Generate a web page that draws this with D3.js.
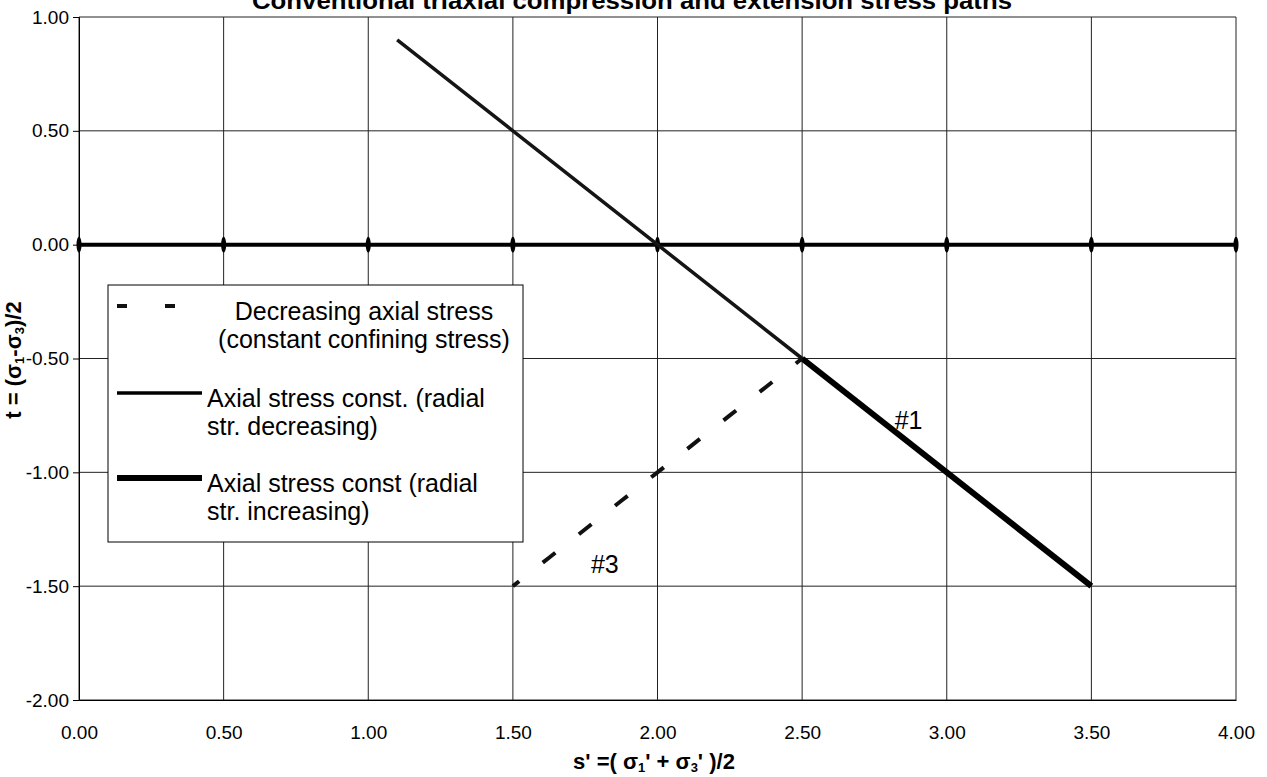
<!DOCTYPE html>
<html>
<head>
<meta charset="utf-8">
<script src="https://cdn.jsdelivr.net/npm/d3@7"></script>
<style>
  body { margin: 0; background: #fff; }
  text { font-family: "Liberation Sans", Arial, sans-serif; fill: #000; }
</style>
</head>
<body>
<svg id="chart"></svg>
<script>
// axis ticks
const sTicks = [0, 0.5, 1, 1.5, 2, 2.5, 3, 3.5, 4];
const tTicks = [-2, -1.5, -1, -0.5, 0, 0.5, 1];

// hydrostatic line t = 0
const zeroS = [0, 0.5, 1, 1.5, 2, 2.5, 3, 3.5, 4];
const zeroT = [0, 0, 0, 0, 0, 0, 0, 0, 0];

// Axial stress const. (radial str. decreasing)
const radDecS = [1.1, 1.5, 2.0, 2.5];
const radDecT = [0.9, 0.5, 0.0, -0.5];

// Axial stress const (radial str. increasing)  #1
const radIncS = [2.5, 3.5];
const radIncT = [-0.5, -1.5];

// Decreasing axial stress (constant confining stress)  #3
const axDecS = [1.5, 1.625, 1.75, 1.875, 2.0, 2.125, 2.25, 2.375, 2.5];
const axDecT = [-1.5, -1.375, -1.25, -1.125, -1.0, -0.875, -0.75, -0.625, -0.5];

const legendItems = [
  { lines: ["Decreasing axial stress", "(constant confining stress)"], type: "dash" },
  { lines: ["Axial stress const. (radial", "str. decreasing)"], type: "thin" },
  { lines: ["Axial stress const (radial", "str. increasing)"], type: "thick" }
];

const W = 1267, H = 777;
const margin = { top: 17, right: 31, bottom: 77, left: 79 };
const width = W - margin.left - margin.right,
      height = H - margin.top - margin.bottom;

const svg = d3.select("#chart").attr("width", W).attr("height", H);
const g = svg.append("g").attr("transform", `translate(${margin.left},${margin.top})`);

const x = d3.scaleLinear().domain([0, 4]).range([0, width]);
const y = d3.scaleLinear().domain([-2, 1]).range([height, 0]);

// plain hyphen for negatives, like the original
const fmt = d => d3.format(".2f")(d).replace("\u2212", "-");

// grid
g.append("g").selectAll("line").data(sTicks).join("line")
  .attr("x1", d => x(d)).attr("x2", d => x(d)).attr("y1", 0).attr("y2", height)
  .attr("stroke", "#222").attr("stroke-width", 1);
g.append("g").selectAll("line").data(tTicks).join("line")
  .attr("x1", 0).attr("x2", width).attr("y1", d => y(d)).attr("y2", d => y(d))
  .attr("stroke", "#222").attr("stroke-width", 1);

// axes
const yAxis = g.append("g")
  .call(d3.axisLeft(y).tickValues(tTicks).tickFormat(fmt).tickSize(6).tickPadding(4));
yAxis.select(".domain").attr("stroke", "#000");
yAxis.selectAll("text").style("font-size", "19px");

const xAxis = g.append("g").attr("transform", `translate(0,${height})`)
  .call(d3.axisBottom(x).tickValues(sTicks).tickFormat(fmt).tickSize(0).tickPadding(26));
xAxis.select(".domain").attr("stroke", "#000");
xAxis.selectAll("text").style("font-size", "19px");

const line = d3.line().x(d => x(d[0])).y(d => y(d[1]));

// zero line with tick markers
const zeroData = zeroS.map((s, i) => [s, zeroT[i]]);
g.append("path").datum(zeroData).attr("d", line)
  .attr("fill", "none").attr("stroke", "#000").attr("stroke-width", 4);
g.append("g").selectAll("ellipse").data(zeroData).join("ellipse")
  .attr("cx", d => x(d[0])).attr("cy", d => y(d[1]))
  .attr("rx", 2.5).attr("ry", 8).attr("fill", "#000");

// radial decreasing
g.append("path").datum(radDecS.map((s, i) => [s, radDecT[i]])).attr("d", line)
  .attr("fill", "none").attr("stroke", "#151515").attr("stroke-width", 3.5);

// radial increasing (#1)
g.append("path").datum(radIncS.map((s, i) => [s, radIncT[i]])).attr("d", line)
  .attr("fill", "none").attr("stroke", "#000").attr("stroke-width", 6);

// decreasing axial stress (#3) - dashes centred on each point
const axPath = g.append("path").datum(axDecS.map((s, i) => [s, axDecT[i]])).attr("d", line)
  .attr("fill", "none").attr("stroke", "#111").attr("stroke-width", 4);
const seg = axPath.node().getTotalLength() / (axDecS.length - 1);
const dashLen = 16;
axPath.attr("stroke-dasharray", `${dashLen},${seg - dashLen}`)
  .attr("stroke-dashoffset", dashLen / 2);

// annotations
g.append("text").attr("x", x(2.82)).attr("y", y(-0.81)).style("font-size", "25px").text("#1");
g.append("text").attr("x", x(1.77)).attr("y", y(-1.44)).style("font-size", "25px").text("#3");

// legend
const lg = svg.append("g").attr("transform", "translate(108,285)");
lg.append("rect").attr("width", 415).attr("height", 257)
  .attr("fill", "#fff").attr("stroke", "#000").attr("stroke-width", 1);

const itemY = [21, 108, 193];
legendItems.forEach((item, i) => {
  const iy = itemY[i];
  if (item.type === "dash") {
    [9, 57].forEach(x0 => lg.append("line")
      .attr("x1", x0).attr("x2", x0 + 10).attr("y1", iy).attr("y2", iy)
      .attr("stroke", "#111").attr("stroke-width", 4));
    item.lines.forEach((t, k) => lg.append("text")
      .attr("x", 256).attr("y", iy + 14 + k * 28).attr("text-anchor", "middle")
      .style("font-size", "25px").text(t));
  } else {
    lg.append("line").attr("x1", 9).attr("x2", 94).attr("y1", iy).attr("y2", iy)
      .attr("stroke", "#000")
      .attr("stroke-width", item.type === "thick" ? 6 : 3.5);
    item.lines.forEach((t, k) => lg.append("text")
      .attr("x", 99).attr("y", iy + 14 + k * 28)
      .style("font-size", "25px").text(t));
  }
});

// title (cut by the top edge, as in the original)
svg.append("text").attr("x", 632).attr("y", 9).attr("text-anchor", "middle")
  .attr("textLength", 760).attr("lengthAdjust", "spacingAndGlyphs")
  .style("font-size", "23px").style("font-weight", "bold")
  .text("Conventional triaxial compression and extension stress paths");

// x axis title
const xt = svg.append("text").attr("x", 654).attr("y", 769).attr("text-anchor", "middle")
  .style("font-size", "22px").style("font-weight", "bold");
xt.append("tspan").text("s' =( σ");
xt.append("tspan").attr("dy", 3).style("font-size", "13px").text("1");
xt.append("tspan").attr("dy", -3).text("' + σ");
xt.append("tspan").attr("dy", 3).style("font-size", "13px").text("3");
xt.append("tspan").attr("dy", -3).text("' )/2");

// y axis title
const yt = svg.append("text").attr("transform", "translate(21,360) rotate(-90)")
  .attr("text-anchor", "middle").style("font-size", "22px").style("font-weight", "bold");
yt.append("tspan").text("t = (σ");
yt.append("tspan").attr("dy", 3).style("font-size", "13px").text("1");
yt.append("tspan").attr("dy", -3).text("-σ");
yt.append("tspan").attr("dy", 3).style("font-size", "13px").text("3");
yt.append("tspan").attr("dy", -3).text(")/2");
</script>
</body>
</html>
